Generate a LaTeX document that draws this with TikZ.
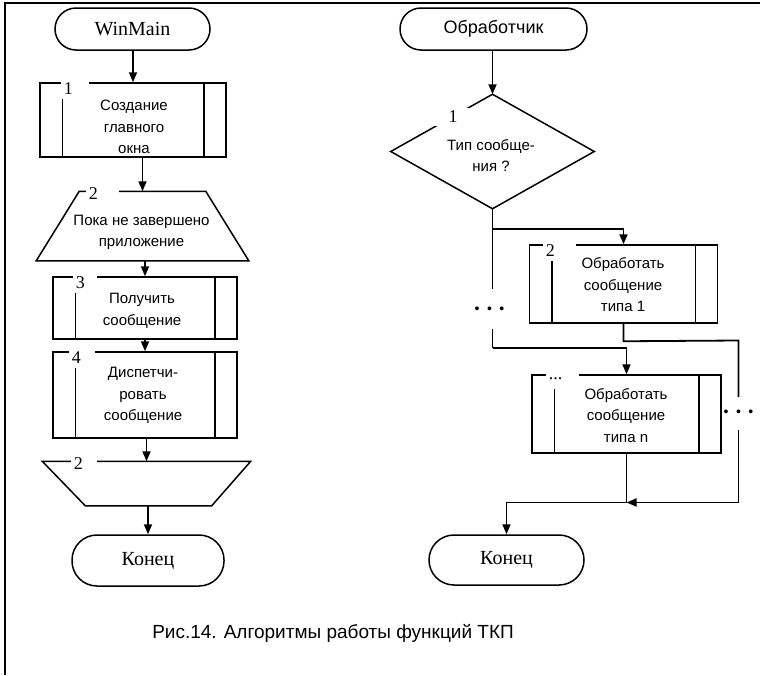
\documentclass[tikz,border=0pt]{standalone}
\usepackage{fontspec}
\setmainfont{Liberation Serif}
\setsansfont{Liberation Sans}
\usetikzlibrary{arrows.meta,calc}
\begin{document}
\begin{tikzpicture}[x=1pt,y=-1pt,
  line width=1.5pt,
  term/.style={draw, inner sep=0pt, font=\fontsize{20}{24}\selectfont},
  procbox/.style={draw, inner sep=0pt},
  shapeonly/.style={inner sep=0pt},
  txt/.style={font=\sffamily\fontsize{15}{21.5}\selectfont, align=center, inner sep=0pt},
  lbl/.style={fill=white, font=\fontsize{18}{20}\selectfont, anchor=north west, inner xsep=3pt, inner ysep=1pt, minimum height=20pt, align=left},
  conn/.style={line width=1.8pt},
  arr/.style={conn, -{Triangle[length=10pt,width=8pt]}},
  dotrow/.style={font=\sffamily\fontsize{14}{14}\selectfont, inner sep=0pt}
]
\useasboundingbox (0,0) rectangle (760,675);
% frame
\draw (5,675) -- (5,3) -- (760,3);

% ---------- left column ----------
\node[term, rounded corners=21pt, minimum width=155pt, minimum height=42pt] (wm) at (132.5,29) {WinMain};
\node[procbox, minimum width=186pt, minimum height=74pt] (b1) at (133,120) {};
\node[txt] (b1t) at (134,127) {Создание\\главного\\окна};
\node[shapeonly, minimum width=211pt, minimum height=68pt] (t2) at (142.5,226) {};
\draw ($(t2.north west)+(43,0)$) -- ($(t2.north east)+(-43,0)$) -- (t2.south east) -- (t2.south west) -- cycle;
\node[txt] (t2t) at (141.5,232.5) {Пока не завершено\\приложение};
\node[procbox, minimum width=184pt, minimum height=62pt] (b3) at (145,308) {};
\node[txt] (b3t) at (142,311) {Получить\\сообщение};
\node[procbox, minimum width=184pt, minimum height=86pt] (b4) at (145,395) {};
\node[txt] (b4t) at (143,395.5) {Диспетчи-\\ровать\\сообщение};
\node[shapeonly, minimum width=207pt, minimum height=43pt] (t3) at (146.5,483.5) {};
\draw (t3.north west) -- (t3.north east) -- ($(t3.south east)+(-39,0)$) -- ($(t3.south west)+(43,0)$) -- cycle;
\node[term, rounded corners=25pt, minimum width=152pt, minimum height=51pt] (end1) at (148,560.5) {Конец};

\draw[arr] (b1.north |- wm.south) -- (b1.north);
\draw[arr] (t2.north |- b1.south) -- (t2.north);
\draw[arr] (b3.north |- t2.south) -- (b3.north);
\draw[arr] (b4.north |- b3.south) -- (b4.north);
\draw[arr] (t3.north |- b4.south) -- (t3.north);
\draw[arr] (end1.north |- t3.south) -- (end1.north);

% ---------- right column ----------
\node[draw, inner sep=0pt, rounded corners=21pt, minimum width=187pt, minimum height=42pt, font=\sffamily\fontsize{18}{22}\selectfont] (ob) at (493.5,29) {Обработчик};
\node[shapeonly, minimum width=202pt, minimum height=113pt] (d) at (492.5,151.5) {};
\draw (d.north) -- (d.east) -- (d.south) -- (d.west) -- cycle;
\node[txt] (dt) at (491,155.5) {Тип сообще-\\ния ?};
\node[procbox, minimum width=188pt, minimum height=78pt] (b2) at (623.5,284) {};
\node[txt] (b2t) at (623,285) {Обработать\\сообщение\\типа 1};
\node[procbox, minimum width=189pt, minimum height=78pt] (bn) at (626.5,414) {};
\node[txt] (bnt) at (626,415.5) {Обработать\\сообщение\\типа n};
\node[term, rounded corners=25pt, minimum width=155pt, minimum height=50pt] (end2) at (506.5,560) {Конец};

% inner lines of the process boxes
\foreach \bx in {b1,b3,b4,b2,bn} {
  \draw ($(\bx.north west)+(23,0)$) -- ($(\bx.south west)+(23,0)$);
  \draw ($(\bx.north east)+(-23,0)$) -- ($(\bx.south east)+(-23,0)$);
}

% connector points
\coordinate (j1) at ($(d.south)+(0,20.5)$);
\coordinate (dl1) at ($(d.south)+(0,80)$);
\coordinate (dl2) at ($(d.south)+(0,120)$);
\coordinate (j2) at ($(d.south)+(0,139.5)$);
\coordinate (j3) at ($(b2.south)+(0,17.5)$);
\coordinate (r0) at (738.5,340.5);
\coordinate (r1) at (738.5,397);
\coordinate (r2) at (738.5,430);
\coordinate (r3) at (738.5,502.5);
\coordinate (j6) at (bn.south |- r3);
\node[dotrow] (dotsL) at ($(d.south)+(-3,101)$) {•\hspace{7.5pt}•\hspace{7.5pt}•};
\node[dotrow] (dotsR) at (738.5,413) {•\hspace{7.5pt}•\hspace{7.5pt}•};

\draw[arr] (d.north |- ob.south) -- (d.north);
\draw[conn] (d.south) -- (j1) -- (dl1);
\draw[arr] (j1) -| (b2.north);
\draw[conn] (dl2) -- (j2);
\draw[arr] (j2) -| (bn.north);
\draw[conn] (b2.south) -- (j3) -- (r0) -- (r1);
\draw[arr] (r2) -- (r3) -- (j6);
\draw[conn] (bn.south) -- (j6);
\draw[arr] (j6) -| (end2.north);

% ---------- number labels ----------
\node[lbl, text width=22pt] (l1) at (60,78) {1};
\node[lbl, text width=27pt] (l2) at (85,183) {2};
\node[lbl, text width=18pt] (l3) at (72,272) {3};
\node[lbl, text width=20pt] (l4) at (68,347) {4};
\node[lbl, text width=20pt] (l5) at (70,453) {2};
\node[lbl, text width=27pt] (l6) at (542,240) {2};
\node[lbl, text width=27pt] (l7) at (545,368) {...};
\node[fill=white, inner sep=0pt, minimum width=38pt, minimum height=18pt, font=\fontsize{18}{20}\selectfont] (l8) at (453,117) {1};

% caption
\node[font=\sffamily\fontsize{19}{23}\selectfont, inner sep=0pt] (cap) at (333,633) {Рис.14. Алгоритмы работы функций ТКП};
\end{tikzpicture}
\end{document}
